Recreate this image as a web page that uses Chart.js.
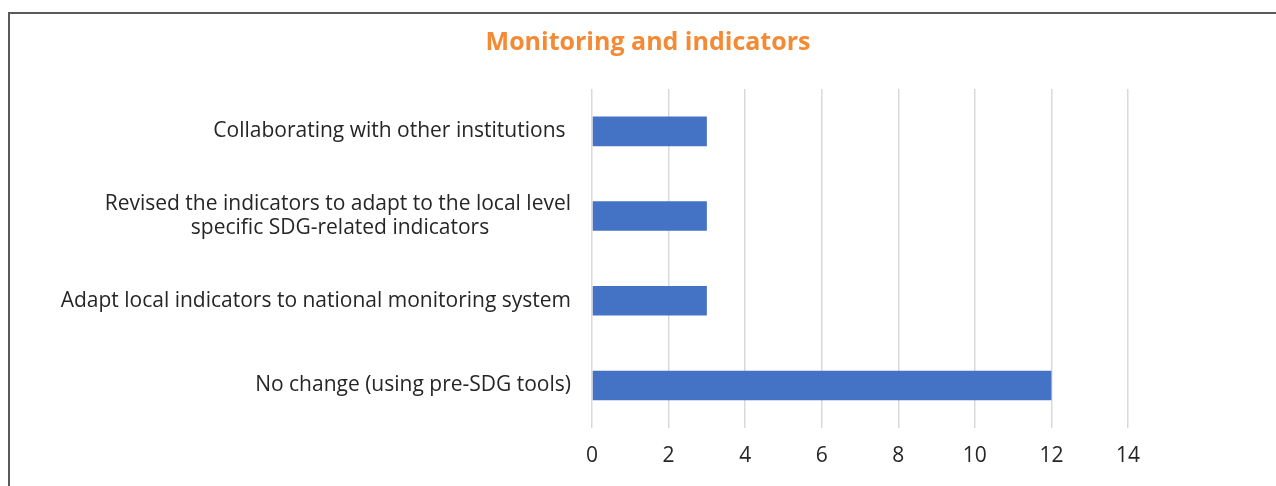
<!DOCTYPE html>
<html>
<head>
<meta charset="utf-8">
<script src="https://cdn.jsdelivr.net/npm/chart.js@4"></script>
<style>
    body { margin: 0; background: #fff; }
    #wrap { position: relative; width: 1276px; height: 486px; }
    #frame {
        position: absolute; left: 8px; top: 12px; width: 1300px; height: 500px;
        border-left: 2px solid #5a5a5a; border-top: 2px solid #5a5a5a;
    }
    canvas { position: absolute; left: 0; top: 0; }
</style>
</head>
<body>
<div id="wrap">
    <div id="frame"></div>
    <canvas id="chart"></canvas>
</div>
<script>
// Chart data
const categories = [
    'Collaborating with other institutions ',
    ['Revised the indicators to adapt to the local level', 'specific SDG-related indicators               '],
    'Adapt local indicators to national monitoring system',
    'No change (using pre-SDG tools)'
];
const counts = [3, 3, 3, 12];
const xTicks = [0, 2, 4, 6, 8, 10, 12, 14];

const fontFamily = '"Open Sans", "Noto Sans", sans-serif';

// let the long category labels run past the padded left edge
const widenLabels = {
    id: 'widenLabels',
    afterLayout(chart) {
        chart.scales.y.left = 0;
    }
};

new Chart(document.getElementById('chart'), {
    type: 'bar',
    data: {
        labels: categories,
        datasets: [{
            data: counts,
            backgroundColor: '#4472C4',
            barPercentage: 0.7,
            categoryPercentage: 0.5
        }]
    },
    plugins: [widenLabels],
    options: {
        indexAxis: 'y',
        responsive: true,
        maintainAspectRatio: false,
        animation: false,
        layout: { padding: { left: 168, right: 148, top: 14, bottom: 1 } },
        plugins: {
            legend: { display: false },
            tooltip: { enabled: false },
            title: {
                display: true,
                text: 'Monitoring and indicators',
                color: '#F58A35',
                font: { family: fontFamily, size: 25, weight: 'bold', lineHeight: 1.2 },
                padding: { top: 14, bottom: 31 }
            }
        },
        scales: {
            x: {
                min: 0,
                max: 14,
                afterBuildTicks: function(scale) {
                    scale.ticks = xTicks.map(v => ({ value: v }));
                },
                grid: { color: '#d9d9d9', lineWidth: 1.5, drawTicks: false },
                border: { display: false },
                ticks: {
                    padding: 16,
                    color: '#262626',
                    font: { family: fontFamily, size: 21, lineHeight: 1.2 }
                }
            },
            y: {
                afterFit: function(scale) { scale.width = 424; },
                grid: { display: false, drawTicks: false },
                border: { display: false },
                ticks: {
                    padding: 21,
                    color: '#262626',
                    font: { family: fontFamily, size: 21, lineHeight: 1.15 }
                }
            }
        }
    }
});
</script>
</body>
</html>
